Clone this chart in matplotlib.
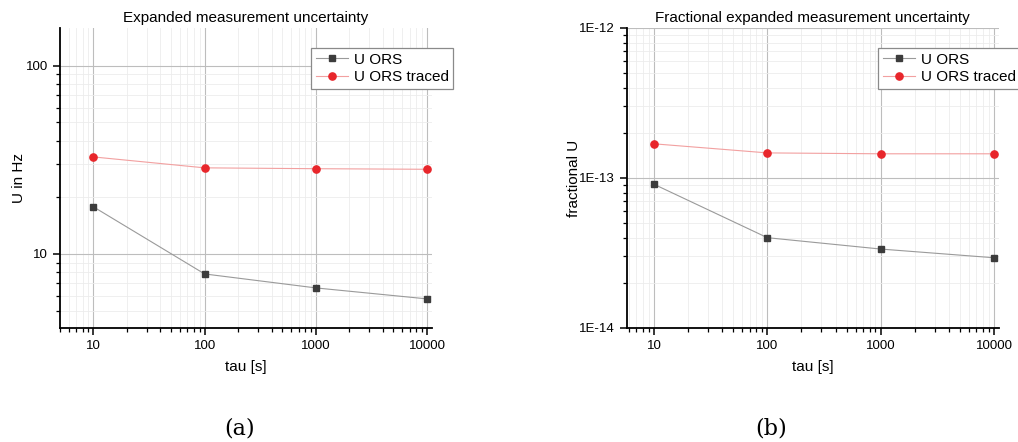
import matplotlib
matplotlib.use('Agg')
import matplotlib.pyplot as plt
from matplotlib.ticker import LogLocator, FuncFormatter, NullFormatter
import numpy as np

plt.rcParams['font.family'] = ['Liberation Sans', 'DejaVu Sans']

# data
tau = [10, 100, 1000, 10000]
u_ors = [17.8, 7.83, 6.6, 5.77]
u_ors_traced = [32.8, 28.7, 28.4, 28.2]
frac_ors = [9.08e-14, 4.0e-14, 3.36e-14, 2.94e-14]
frac_ors_traced = [1.69e-13, 1.47e-13, 1.45e-13, 1.45e-13]

x_ticks = [10, 100, 1000, 10000]
y_ticks_hz = [10, 100]
y_ticks_frac = [1e-14, 1e-13, 1e-12]

titles = ['Expanded measurement uncertainty', 'Fractional expanded measurement uncertainty']
ylabels = ['U in Hz', 'fractional U']
captions = ['(a)', '(b)']

W, H = 1018, 442
fig = plt.figure(figsize=(W / 100, H / 100), dpi=100)


def px_axes(x0, y0, x1, y1):
    return fig.add_axes([x0 / W, 1 - y1 / H, (x1 - x0) / W, (y1 - y0) / H])


def style_axes(ax):
    for s in ['top', 'right']:
        ax.spines[s].set_visible(False)
    for s in ['left', 'bottom']:
        ax.spines[s].set_linewidth(1.3)
    ax.set_xscale('log')
    ax.set_yscale('log')
    ax.set_xticks(x_ticks)
    ax.xaxis.set_minor_locator(LogLocator(base=10, subs=np.arange(2, 10), numticks=10))
    ax.yaxis.set_minor_locator(LogLocator(base=10, subs=np.arange(2, 10), numticks=10))
    ax.xaxis.set_major_formatter(FuncFormatter(lambda v, p: '%d' % round(v)))
    ax.xaxis.set_minor_formatter(NullFormatter())
    ax.yaxis.set_minor_formatter(NullFormatter())
    ax.tick_params(which='major', direction='out', length=5, width=1.1, labelsize=9.5, color='black')
    ax.tick_params(which='minor', direction='out', length=3, width=0.9, color='black')
    ax.grid(True, which='major', color='#bdbdbd', linewidth=0.8)
    ax.grid(True, which='minor', color='#ececec', linewidth=0.6)
    ax.set_axisbelow(True)


def draw(ax, y1, y2, title, ylabel, legend_anchor, ylabel_x):
    ax.plot(tau, y1, color='#9a9a9a', linewidth=0.8, marker='s', markersize=4.6,
            markerfacecolor='#3c3c3c', markeredgecolor='#3c3c3c', label='U ORS', zorder=3)
    ax.plot(tau, y2, color='#f2a0a0', linewidth=0.8, marker='o', markersize=5.2,
            markerfacecolor='#e8262b', markeredgecolor='#e8262b', label='U ORS traced', zorder=3)
    ax.set_title(title, fontsize=11, pad=4)
    ax.set_xlabel('tau [s]', fontsize=11, labelpad=6)
    ax.set_ylabel(ylabel, fontsize=11)
    ax.yaxis.set_label_coords(ylabel_x, 0.5)
    leg = ax.legend(loc='upper left', bbox_to_anchor=legend_anchor,
                    bbox_transform=fig.transFigure, fontsize=11, frameon=True,
                    fancybox=False, framealpha=1, edgecolor='#8a8a8a',
                    handlelength=2.1, handletextpad=0.4, borderpad=0.3,
                    labelspacing=0.25, borderaxespad=0)
    leg.get_frame().set_linewidth(0.9)


ax1 = px_axes(60, 28, 432, 328)
style_axes(ax1)
draw(ax1, u_ors, u_ors_traced, titles[0], ylabels[0], (311 / W, 1 - 48 / H), (26 - 60) / 372)
ax1.set_yticks(y_ticks_hz)
ax1.yaxis.set_major_formatter(FuncFormatter(lambda v, p: '%d' % round(v)))
ax1.set_xlim(5.0, 11100)
ax1.set_ylim(4.04, 159)

ax2 = px_axes(626.7, 28, 999, 328)
style_axes(ax2)
draw(ax2, frac_ors, frac_ors_traced, titles[1], ylabels[1], (878 / W, 1 - 48 / H), (581 - 626.7) / 372.3)
ax2.set_yticks(y_ticks_frac)
ax2.yaxis.set_major_formatter(FuncFormatter(lambda v, p: '1E%d' % round(np.log10(v))))
ax2.set_xlim(5.74, 11070)
ax2.set_ylim(1e-14, 1e-12)

fig.text(240 / W, 1 - 429 / H, captions[0], ha='center', va='center',
         fontsize=16, family='DejaVu Serif')
fig.text(771 / W, 1 - 429 / H, captions[1], ha='center', va='center',
         fontsize=16, family='DejaVu Serif')

fig.savefig('out.png', dpi=100)
